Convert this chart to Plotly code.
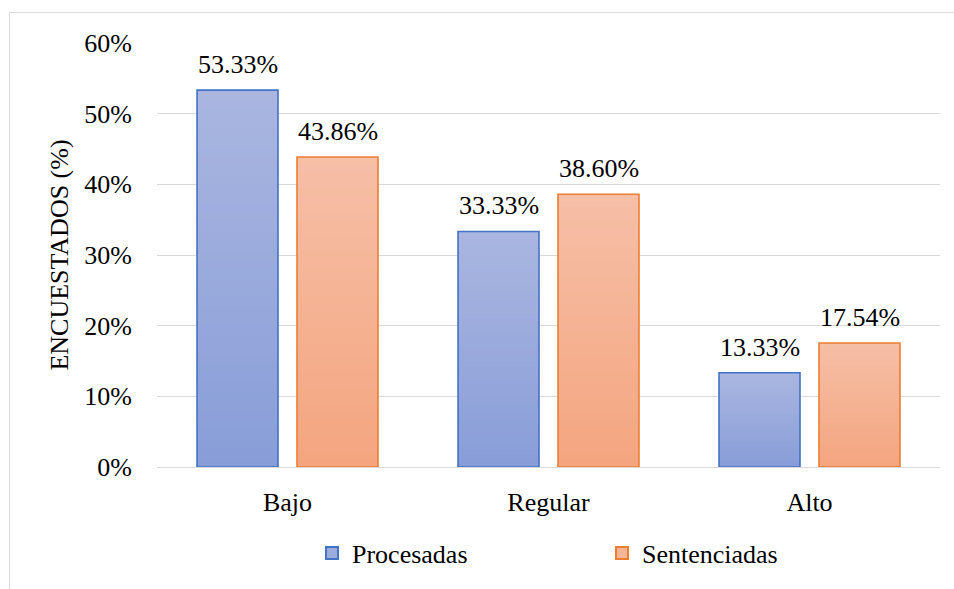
import plotly.graph_objects as go

categories = ["Bajo", "Regular", "Alto"]
procesadas = [53.33, 33.33, 13.33]
sentenciadas = [43.86, 38.60, 17.54]
series_names = ["Procesadas", "Sentenciadas"]
y_ticks = [0, 10, 20, 30, 40, 50, 60]
y_tick_labels = ["%d%%" % t for t in y_ticks]

FONT = "Liberation Serif"
FS = 26

styles = {
    "Procesadas": dict(top=(170, 182, 224), bottom=(136, 157, 216), line="#4472C4", shift=-50),
    "Sentenciadas": dict(top=(246, 191, 167), bottom=(244, 165, 127), line="#ED7D31", shift=50),
}

def mix(a, b, t):
    return "rgb(%d,%d,%d)" % tuple(round(a[i] + (b[i] - a[i]) * t) for i in range(3))

def fnt():
    return dict(family=FONT, size=FS, color="#000000")

fig = go.Figure()
N = 40
data = {"Procesadas": procesadas, "Sentenciadas": sentenciadas}

# legend entries first
for name in series_names:
    st = styles[name]
    fig.add_trace(go.Bar(
        x=categories, y=[None] * len(categories), name=name, offsetgroup=name,
        marker=dict(color=mix(st["bottom"], st["top"], 0.6), line=dict(color=st["line"], width=2)),
        showlegend=True, hoverinfo="skip",
    ))

for name in series_names:
    st = styles[name]
    vals = data[name]
    for k in range(N):
        frac = (N - k) / N
        col = mix(st["bottom"], st["top"], (N - k - 0.5) / N)
        fig.add_trace(go.Bar(
            x=categories, y=[v * frac for v in vals], offsetgroup=name,
            marker=dict(color=col, line=dict(width=0)),
            showlegend=False, hoverinfo="skip",
        ))
    fig.add_trace(go.Bar(
        x=categories, y=vals, offsetgroup=name,
        marker=dict(color="rgba(0,0,0,0)", line=dict(color=st["line"], width=1.6)),
        showlegend=False, hoverinfo="skip",
    ))
    for c, v in zip(categories, vals):
        fig.add_annotation(
            x=c, y=v, text="%.2f%%" % v, showarrow=False,
            xshift=st["shift"], yshift=9, yanchor="bottom",
            font=fnt(),
        )

fig.update_layout(
    width=954, height=589,
    margin=dict(l=157, r=14, t=43, b=122),
    paper_bgcolor="white", plot_bgcolor="white",
    barmode="group", bargap=0.234, bargroupgap=0.19,
    font=fnt(),
    showlegend=True,
    legend=dict(
        orientation="h", x=(312 - 157) / 783, xanchor="left",
        y=(467 - 553) / 424, yanchor="middle",
        entrywidth=245, font=fnt(),
        bgcolor="rgba(0,0,0,0)",
    ),
    xaxis=dict(
        showgrid=False, showline=True, linecolor="#D9D9D9", linewidth=1,
        ticks="", tickfont=fnt(),
        ticklabelstandoff=12,
    ),
    yaxis=dict(
        range=[0, 60], tickmode="array", tickvals=y_ticks, ticktext=y_tick_labels,
        showgrid=True, gridcolor="#D9D9D9", gridwidth=1, zeroline=False,
        showline=False, ticks="", ticklabelstandoff=24,
        tickfont=fnt(),
        title=dict(text="ENCUESTADOS (%)", standoff=8, font=fnt()),
    ),
    shapes=[dict(
        type="rect", xref="paper", yref="paper",
        x0=(9.5 - 157) / 783, x1=(970 - 157) / 783,
        y0=(467 - 600) / 424, y1=(467 - 12.5) / 424,
        line=dict(color="#D9D9D9", width=1), fillcolor="rgba(0,0,0,0)", layer="below",
    )],
)

fig.write_html("out.html")
